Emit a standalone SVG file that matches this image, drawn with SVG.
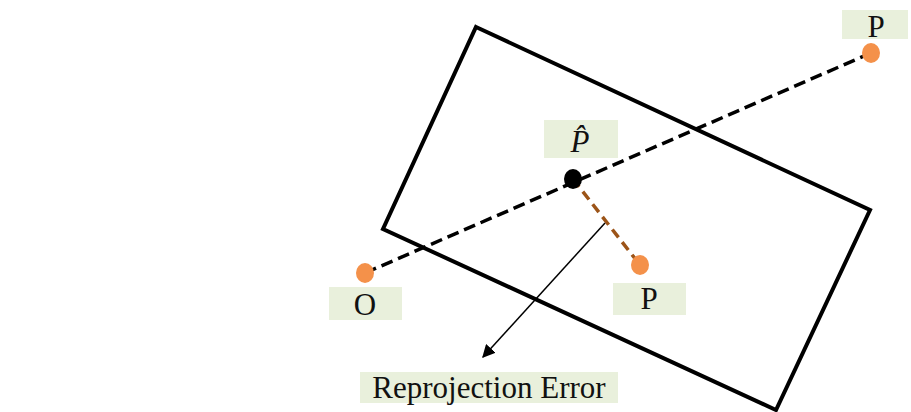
<svg xmlns="http://www.w3.org/2000/svg" width="911" height="412" viewBox="0 0 911 412">
<style>
.lbl{fill:#E9F0DC}
.t{font-family:"Liberation Serif","Times New Roman",serif;font-size:31px;fill:#111;text-anchor:middle}
.pt{fill:#F4914A}
</style>
<defs>
<marker id="ah" viewBox="0 0 10 10" refX="9" refY="5" markerWidth="13" markerHeight="13" markerUnits="userSpaceOnUse" orient="auto">
<path d="M0,0 L10,5 L0,10 z" fill="#000"/>
</marker>
</defs>
<rect width="911" height="412" fill="#fff"/>
<g id="image-plane">
<polygon points="476,27 870,210 776,410 383,229" fill="none" stroke="#000" stroke-width="4" stroke-linejoin="miter"/>
</g>
<g id="connectors">
<line x1="365" y1="273" x2="871" y2="53" stroke="#000" stroke-width="3.5" stroke-dasharray="12,6"/>
<line x1="573" y1="179" x2="640" y2="265" stroke="#9C5418" stroke-width="3.5" stroke-dasharray="10,6"/>
<line x1="605" y1="223" x2="483" y2="357" stroke="#000" stroke-width="1.5" marker-end="url(#ah)"/>
</g>
<g id="node-O">
<rect class="lbl" x="329" y="287" width="73" height="33"/>
<ellipse class="pt" cx="365" cy="273" rx="9" ry="10"/>
<text class="t" x="365" y="315">O</text>
</g>
<g id="node-P-far">
<rect class="lbl" x="842" y="10" width="66" height="29"/>
<text class="t" x="876" y="37">P</text>
<ellipse class="pt" cx="871" cy="53" rx="9" ry="10"/>
</g>
<g id="node-Phat">
<rect class="lbl" x="544" y="120" width="74" height="38"/>
<text class="t" x="580" y="152" font-style="italic">P&#x0302;</text>
<ellipse cx="573" cy="179" rx="9" ry="10" fill="#000"/>
</g>
<g id="node-P">
<rect class="lbl" x="613" y="283" width="73" height="32"/>
<ellipse class="pt" cx="640" cy="265" rx="9" ry="10"/>
<text class="t" x="649" y="309">P</text>
</g>
<g id="label-reprojection">
<rect class="lbl" x="360" y="372" width="258" height="31"/>
<text class="t" x="489" y="398" font-size="32">Reprojection Error</text>
</g>
</svg>
